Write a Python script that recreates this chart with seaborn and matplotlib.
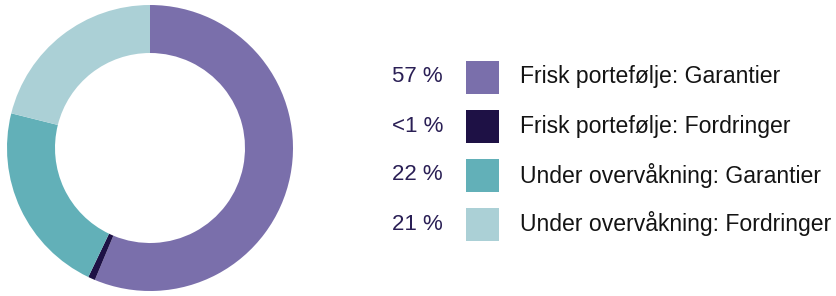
import matplotlib.pyplot as plt
import numpy as np
import seaborn as sns

# data
labels = ["Frisk portefølje: Garantier", "Frisk portefølje: Fordringer",
          "Under overvåkning: Garantier", "Under overvåkning: Fordringer"]
shares = [56.3, 0.8, 21.8, 21.1]
pct_labels = ["57 %", "<1 %", "22 %", "21 %"]
colors = ["#7a6fab", "#1e1145", "#62b0b8", "#abd0d6"]

sns.set_theme(style="white")
plt.rcParams["font.family"] = ["Liberation Sans", "DejaVu Sans"]

W, H = 836, 296
fig = plt.figure(figsize=(W / 100, H / 100), dpi=100)
ax = fig.add_axes([0, 0, 1, 1])

# donut
ax.pie(shares, colors=colors, startangle=90, counterclock=False,
       center=(150, 148), radius=143, frame=True,
       wedgeprops=dict(width=48, linewidth=0))
ax.set_xlim(0, W)
ax.set_ylim(0, H)
ax.set_aspect("equal")
ax.axis("off")

# legend rows
row_y = H - np.array([77, 126, 175, 224])
ax.scatter(np.full(len(labels), 482.5), row_y, marker="s", s=(33 * 0.72) ** 2,
           c=colors, linewidths=0)
for y, p, lab in zip(row_y, pct_labels, labels):
    ax.text(443, y, p, ha="right", va="center", fontsize=16, color="#2a1f55")
    ax.text(520, y, lab, ha="left", va="center", fontsize=16.6, color="#141414")

fig.savefig("out.png", dpi=100)
